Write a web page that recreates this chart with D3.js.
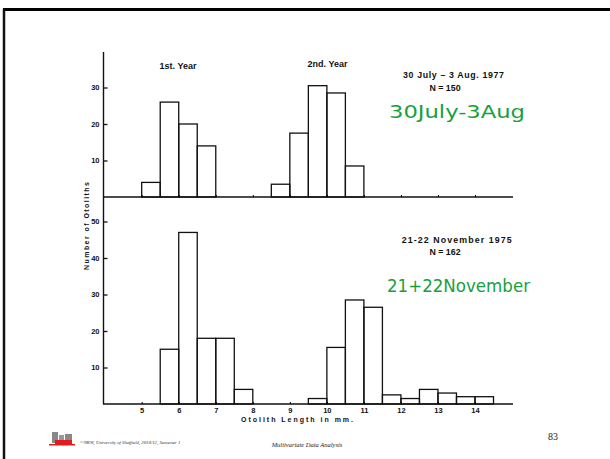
<!DOCTYPE html>
<html>
<head>
<meta charset="utf-8">
<script src="https://cdn.jsdelivr.net/npm/d3@7"></script>
<style>
body { margin: 0; background: #fff; }
</style>
</head>
<body>
<div id="svgbody"></div>
<script>
// bins are 0.5 mm wide, value = left edge of the bin
let julyBins = [5, 5.5, 6, 6.5, 8.5, 9, 9.5, 10, 10.5];
let julyCounts = [4, 26, 20, 14, 3.5, 17.5, 30.5, 28.5, 8.5];
let novBins = [5.5, 6, 6.5, 7, 7.5, 9.5, 10, 10.5, 11, 11.5, 12, 12.5, 13, 13.5, 14];
let novCounts = [15, 47, 18, 18, 4, 1.5, 15.5, 28.5, 26.5, 2.5, 1.5, 4, 3, 2, 2];
let xTicks = [5, 6, 7, 8, 9, 10, 11, 12, 13, 14];
let julyYTicks = [10, 20, 30];
let novYTicks = [10, 20, 30, 40, 50];
let binWidth = 0.5;

window.onload = () => {
    draw();
};

function draw() {
    let svg = d3.select("#svgbody").append('svg').attr("width", 610).attr("height", 459)
        .attr("font-family", "Liberation Sans, Arial, sans-serif");

    // slide frame
    svg.append("rect").attr("x", 0).attr("y", 0).attr("width", 610).attr("height", 459).attr("fill", "#fff");
    svg.append("line").attr("x1", 3).attr("x2", 610).attr("y1", 9.5).attr("y2", 9.5)
        .attr("stroke", "#000").attr("stroke-width", 3);
    svg.append("line").attr("x1", 4).attr("x2", 4).attr("y1", 9).attr("y2", 459)
        .attr("stroke", "#111").attr("stroke-width", 2.5);

    let x = d3.scaleLinear().domain([5, 14]).range([141.7, 475]);
    let yTop = d3.scaleLinear().domain([0, 30]).range([197, 87.5]);
    let yBot = d3.scaleLinear().domain([0, 50]).range([404, 221.5]);

    // axis line running through both panels
    svg.append("line").attr("x1", 103.5).attr("x2", 103.5).attr("y1", 52).attr("y2", 404)
        .attr("stroke", "#111").attr("stroke-width", 1.4);

    let panels = [
        {bins: julyBins, counts: julyCounts, y: yTop, ticks: julyYTicks, labels: false},
        {bins: novBins, counts: novCounts, y: yBot, ticks: novYTicks, labels: true}
    ];

    panels.forEach(p => {
        let g = svg.append("g");
        g.selectAll("rect").data(p.counts).enter().append("rect")
            .attr("x", (d, i) => x(p.bins[i]))
            .attr("y", d => p.y(d))
            .attr("width", (d, i) => x(p.bins[i] + binWidth) - x(p.bins[i]))
            .attr("height", d => p.y(0) - p.y(d))
            .attr("fill", "none")
            .attr("stroke", "#111")
            .attr("stroke-width", 1.3);

        let xAxis = d3.axisBottom(x).tickValues(xTicks).tickSizeInner(-2).tickSizeOuter(0).tickPadding(3.5)
            .tickFormat(p.labels ? d3.format("d") : "");
        let xg = svg.append("g").attr("transform", "translate(0," + p.y(0) + ")").call(xAxis);
        xg.attr("font-family", null);
        xg.select(".domain").attr("d", "M" + 103 + ",0H" + 513).attr("stroke", "#111").attr("stroke-width", 1.5);
        xg.selectAll("text").attr("font-size", 7.5).attr("font-weight", "bold").attr("fill", "#111");

        let yAxis = d3.axisLeft(p.y).tickValues(p.ticks).tickSizeInner(-4).tickSizeOuter(0).tickPadding(4);
        let yg = svg.append("g").attr("transform", "translate(103.5,0)").call(yAxis);
        yg.attr("font-family", null);
        yg.select(".domain").remove();
        yg.selectAll("line").attr("stroke", "#111").attr("stroke-width", 1.3);
        yg.selectAll("text").attr("font-size", 7.5).attr("font-weight", "bold").attr("fill", "#111");
    });

    let label = (t, px, py, size, len) => {
        let el = svg.append("text").attr("x", px).attr("y", py).attr("text-anchor", "middle")
            .attr("font-size", size).attr("font-weight", "bold").attr("fill", "#111").text(t);
        if (len) el.attr("textLength", len).attr("lengthAdjust", "spacing");
        return el;
    };

    label("1st. Year", 178, 68.5, 9);
    label("2nd. Year", 327.5, 67, 9);
    label("30 July \u2013 3 Aug. 1977", 453.5, 78, 8.8, 101);
    label("N = 150", 445, 90.5, 8.8);
    label("21-22 November 1975", 456.7, 242.5, 8.8, 110);
    label("N = 162", 445, 255, 8.8);
    label("Otolith   Length   in   mm.", 297, 421.5, 7, 112);
    label("Number  of  Otoliths", 0, 0, 7, 88)
        .attr("transform", "translate(88.5,226) rotate(-90)");

    // handwritten notes in green
    svg.append("text").attr("x", 389).attr("y", 118).attr("font-size", 18)
        .attr("font-family", "DejaVu Sans").attr("fill", "#17a03c")
        .attr("textLength", 136).attr("lengthAdjust", "spacingAndGlyphs").text("30July-3Aug");
    svg.append("text").attr("x", 387).attr("y", 292).attr("font-size", 18)
        .attr("font-family", "DejaVu Sans").attr("fill", "#17a03c")
        .attr("textLength", 143).attr("lengthAdjust", "spacingAndGlyphs").text("21+22November");

    // footer
    let logo = svg.append("g");
    logo.append("rect").attr("x", 52).attr("y", 432).attr("width", 6).attr("height", 11).attr("fill", "#888");
    logo.append("rect").attr("x", 59).attr("y", 435).attr("width", 5).attr("height", 8).attr("fill", "#999");
    logo.append("rect").attr("x", 65).attr("y", 434).attr("width", 7).attr("height", 9).attr("fill", "#888");
    logo.append("rect").attr("x", 55).attr("y", 440).attr("width", 17).attr("height", 4).attr("fill", "#e21c1c");
    logo.append("rect").attr("x", 49).attr("y", 444).attr("width", 26).attr("height", 1.5).attr("fill", "#e21c1c");

    svg.append("text").attr("x", 80).attr("y", 443.5).attr("font-size", 4.8)
        .attr("font-family", "Liberation Serif").attr("font-style", "italic").attr("fill", "#333")
        .text("\u00a9NKW, University of Sheffield, 2010/12, Semester 1");
    svg.append("text").attr("x", 271.7).attr("y", 446.5).attr("font-size", 6.5)
        .attr("font-family", "Liberation Serif").attr("font-style", "italic").attr("fill", "#222")
        .text("Multivariate Data Analysis");
    svg.append("text").attr("x", 548).attr("y", 439.5).attr("font-size", 10)
        .attr("font-family", "Liberation Serif").attr("fill", "#222").text("83");
}
</script>
</body>
</html>
